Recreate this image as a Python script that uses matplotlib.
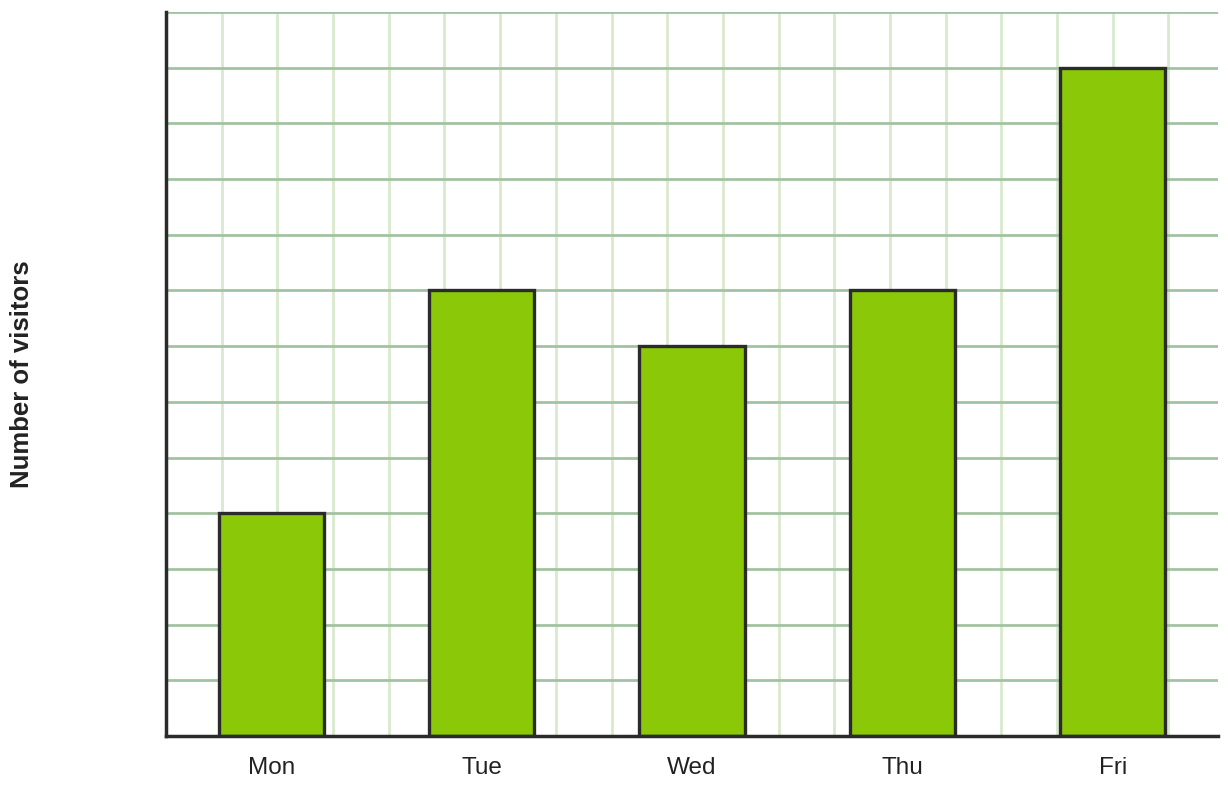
import numpy as np
import matplotlib.pyplot as plt

plt.rcParams['font.family'] = ['Liberation Sans', 'DejaVu Sans']

# 数据
days = ['Mon', 'Tue', 'Wed', 'Thu', 'Fri']
visitors = [4, 8, 7, 8, 12]
y_max = 13

fig = plt.figure(figsize=(12.28, 7.86), dpi=100)
ax = fig.add_axes([166 / 1228, 50 / 786, 1052 / 1228, 724 / 786])

x = np.arange(len(days))
ax.set_xlim(-0.5, len(days) - 0.5)
ax.set_ylim(0, y_max)

# 方格背景：竖线与横线间距相同（像素）
w_px = 1052
h_px = 724
dx = (len(days) * (h_px / y_max)) / w_px
for xv in np.arange(-0.5 + dx, len(days) - 0.5, dx):
    ax.axvline(xv, color='#d9e9cd', lw=2, zorder=0)
for yv in range(1, y_max + 1):
    ax.axhline(yv, color='#a2c3a2', lw=2, zorder=1)

ax.bar(x, visitors, width=0.5, color='#8ac808', edgecolor='#2b2b2b',
       linewidth=2.4, zorder=3)

ax.set_xticks(x)
ax.set_xticklabels(days, fontsize=17.5, color='#222222')
ax.set_yticks([])
ax.tick_params(axis='x', length=0, pad=15)

for s in ['top', 'right']:
    ax.spines[s].set_visible(False)
for s in ['left', 'bottom']:
    ax.spines[s].set_color('#2b2b2b')
    ax.spines[s].set_linewidth(2.5)
    ax.spines[s].set_zorder(4)

fig.text(22 / 1228, 1 - 374 / 786, 'Number of visitors', rotation=90,
         ha='center', va='center', fontsize=18.5, fontweight='bold',
         color='#222222')

fig.savefig('out.png', dpi=100)
